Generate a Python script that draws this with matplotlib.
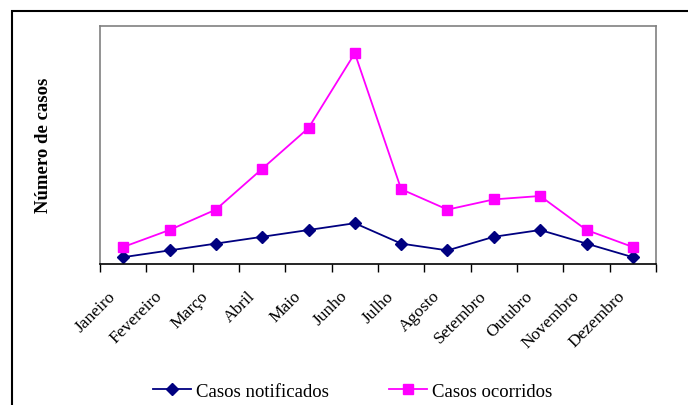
import matplotlib.pyplot as plt
from matplotlib.patches import Rectangle

meses = ['Janeiro', 'Fevereiro', 'Março', 'Abril', 'Maio', 'Junho', 'Julho',
         'Agosto', 'Setembro', 'Outubro', 'Novembro', 'Dezembro']
notificados = [2, 4, 6, 8, 10, 12, 6, 4, 8, 10, 6, 2]
ocorridos = [5, 10, 16, 28, 40, 62, 22, 16, 19, 20, 10, 5]

plt.rcParams['font.family'] = ['Liberation Serif', 'DejaVu Serif']

W, H = 688, 406
fig = plt.figure(figsize=(W / 100, H / 100), dpi=100)
ax = fig.add_axes([100 / W, 1 - 265 / H, 556 / W, 238 / H])

x = [i + 0.5 for i in range(len(meses))]
ax.plot(x, notificados, color='#000080', marker='D', markersize=6, lw=1.3,
        label='Casos notificados')
ax.plot(x, ocorridos, color='#FF00FF', marker='s', markersize=7, lw=1.3,
        label='Casos ocorridos')

ax.set_xlim(0, 12)
ax.set_ylim(0, 70)
ax.set_yticks([])
ax.set_xticks(range(13))
ax.set_xticklabels([])
ax.tick_params(axis='x', direction='out', length=6, width=1, color='black')
# rotulos dos meses a 45 graus, estilo Excel
for i, m in enumerate(meses):
    ax.annotate(m, (i + 0.5, 0), xytext=(-7, -21), textcoords='offset points',
                rotation=45, rotation_mode='anchor', ha='right', va='center',
                fontsize=12.5)

for s in ['top', 'right']:
    ax.spines[s].set_color('#808080')
ax.spines['bottom'].set_color('black')
ax.spines['left'].set_color('#808080')
for s in ax.spines.values():
    s.set_linewidth(1.2)

fig.text(43.5 / W, 1 - 145 / H, 'Número de casos', rotation=90, ha='center',
         va='center', fontsize=13.5, fontweight='bold')

fig.legend(loc='center', bbox_to_anchor=(353 / W, 1 - 392 / H), ncol=2,
           frameon=False, fontsize=13.5, handlelength=2.0, columnspacing=3.2,
           handletextpad=0.3)

fig.patches.append(Rectangle((12 / W, -0.1), 1.2, 1 - 12 / H + 0.1,
                             transform=fig.transFigure, fill=False,
                             edgecolor='black', lw=1.5))

fig.savefig('out.png', dpi=100)
